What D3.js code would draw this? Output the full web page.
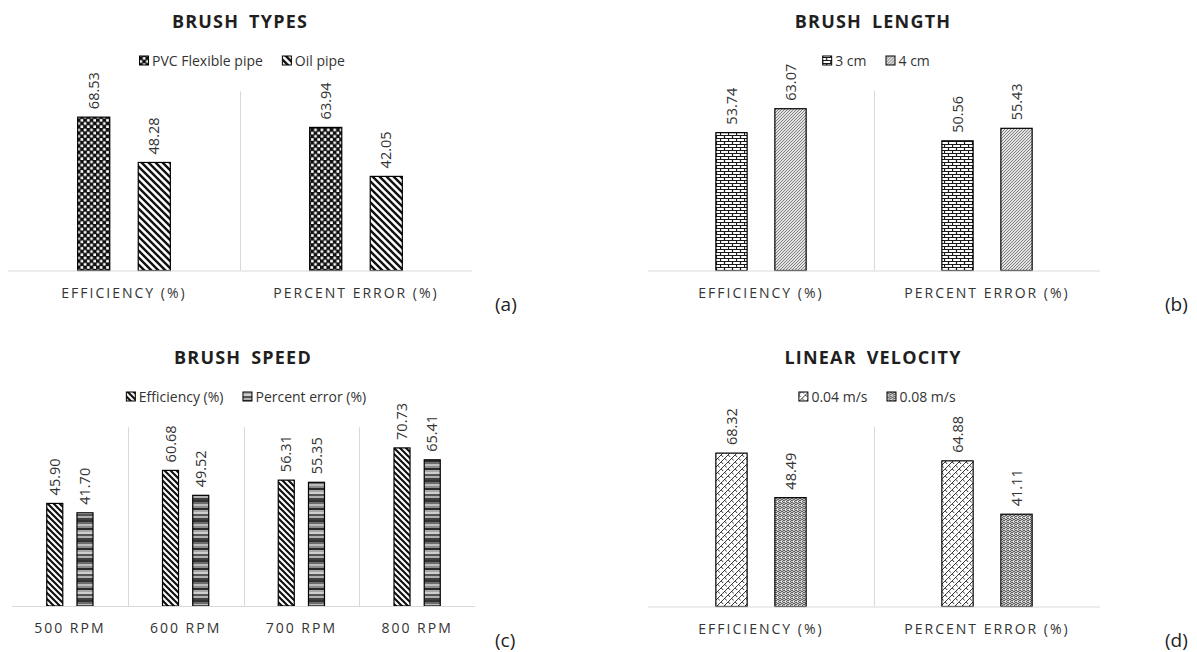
<!DOCTYPE html>
<html>
<head>
<meta charset="utf-8">
<script src="https://cdn.jsdelivr.net/npm/d3@7"></script>
<style>
  body { margin: 0; background: #fff; }
  svg { display: block; }
  text { font-family: "Open Sans", sans-serif; }
</style>
</head>
<body>
<svg id="chart" width="1197" height="652"></svg>
<script>
// ---- data ----
var twoCategories = ["EFFICIENCY (%)", "PERCENT ERROR (%)"];

var typesSeries = ["PVC Flexible pipe", "Oil pipe"];
var typesValues = [[68.53, 63.94], [48.28, 42.05]];

var lengthSeries = ["3 cm", "4 cm"];
var lengthValues = [[53.74, 50.56], [63.07, 55.43]];

var speedCategories = ["500 RPM", "600 RPM", "700 RPM", "800 RPM"];
var speedSeries = ["Efficiency (%)", "Percent error (%)"];
var speedValues = [[45.90, 60.68, 56.31, 70.73], [41.70, 49.52, 55.35, 65.41]];

var velocitySeries = ["0.04 m/s", "0.08 m/s"];
var velocityValues = [[68.32, 64.88], [48.49, 41.11]];

var svg = d3.select("#chart");
var defs = svg.append("defs");

// ---- fill patterns (imitating the Excel pattern fills) ----
function pattern(id, w, h, draw) {
  var p = defs.append("pattern").attr("id", id)
    .attr("patternUnits", "userSpaceOnUse").attr("width", w).attr("height", h);
  p.append("rect").attr("width", w).attr("height", h).attr("fill", "#fff");
  draw(p);
}

pattern("checker", 6.4, 6.4, function(p) {
  p.append("rect").attr("width", 6.4).attr("height", 6.4).attr("fill", "#111");
  p.append("rect").attr("x", 0.6).attr("y", 0.6).attr("width", 2.6).attr("height", 2.6).attr("fill", "#fff");
  p.append("rect").attr("x", 3.8).attr("y", 3.8).attr("width", 2.6).attr("height", 2.6).attr("fill", "#fff");
});

function diagDown(id, s, sw) {
  pattern(id, s, s, function(p) {
    p.append("path").attr("d", "M0,0L" + s + "," + s + "M" + (-s) + ",0L" + s + "," + (2 * s) + "M0," + (-s) + "L" + (2 * s) + "," + s)
      .attr("stroke", "#111").attr("stroke-width", sw);
  });
}
diagDown("wdown", 7, 2.4);
diagDown("wdown2", 6, 2.2);

pattern("brick", 8, 6, function(p) {
  p.append("path")
    .attr("d", "M0,0.5H8M0,3.5H8M0.5,0.5V3.5M4.5,3.5V6.5")
    .attr("stroke", "#1a1a1a").attr("stroke-width", 1.2).attr("fill", "none");
});

pattern("fineup", 3, 3, function(p) {
  p.append("rect").attr("width", 3).attr("height", 3).attr("fill", "#e2e2e2");
  p.append("path").attr("d", "M0,3L3,0M-1,1L1,-1M2,4L4,2")
    .attr("stroke", "#6a6a6a").attr("stroke-width", 0.8);
});

var stripeShades = ["#333", "#6b6b6b", "#bdbdbd", "#8c8c8c", "#2a2a2a", "#a8a8a8", "#cfcfcf", "#555", "#b0b0b0", "#404040"];
pattern("hstripes", 10, 20, function(p) {
  stripeShades.forEach(function(c, i) {
    p.append("rect").attr("y", i * 2).attr("width", 10).attr("height", 2).attr("fill", c);
  });
});

pattern("shingle", 7, 7, function(p) {
  p.append("path").attr("d", "M0,7L7,0M-1,1L1,-1M6,8L8,6M3.5,3.5Q5,4 5.5,5.5M0,0Q1.5,0.5 2,2")
    .attr("stroke", "#222").attr("stroke-width", 0.9).attr("fill", "none");
});

pattern("weave", 4, 4, function(p) {
  p.append("rect").attr("width", 4).attr("height", 4).attr("fill", "#c8c8c8");
  p.append("path").attr("d", "M0,0L2,2L4,0M0,2L2,4L4,2")
    .attr("stroke", "#555").attr("stroke-width", 0.9).attr("fill", "none");
  p.append("rect").attr("x", 1).attr("y", 1).attr("width", 1).attr("height", 1).attr("fill", "#eee");
});

// ---- one Excel-style clustered column chart ----
function panel(cfg) {
  var g = svg.append("g");

  var x0 = d3.scaleBand().domain(cfg.categories).range([cfg.left, cfg.right]);
  var x1 = d3.scaleBand().domain(cfg.series)
    .range([0, x0.bandwidth()]).paddingInner(0.47).paddingOuter(1.15);
  var y = d3.scaleLinear().domain([0, cfg.yMax]).range([cfg.base, cfg.base - cfg.yMax * cfg.ppu]);

  g.append("text").attr("x", cfg.titleX).attr("y", cfg.titleY)
    .attr("text-anchor", "middle").attr("font-size", 18).attr("font-weight", 700)
    .attr("letter-spacing", 1.2).attr("fill", "#1f1f1f").attr("word-spacing", 4)
    .text(cfg.title);

  // vertical separators between categories
  g.selectAll(".sep").data(cfg.categories.slice(1)).enter().append("line")
    .attr("x1", function(d) { return Math.round(x0(d)) + 0.5; })
    .attr("x2", function(d) { return Math.round(x0(d)) + 0.5; })
    .attr("y1", y(cfg.yMax)).attr("y2", cfg.base)
    .attr("stroke", "#d9d9d9").attr("stroke-width", 1);

  var grp = g.selectAll(".series").data(cfg.series).enter().append("g");
  grp.each(function(s, si) {
    var gs = d3.select(this);
    var vals = cfg.values[si].map(function(v, ci) { return {c: cfg.categories[ci], v: v}; });
    gs.selectAll("rect").data(vals).enter().append("rect")
      .attr("x", function(d) { return x0(d.c) + x1(s); })
      .attr("width", x1.bandwidth())
      .attr("y", function(d) { return y(d.v); })
      .attr("height", function(d) { return cfg.base - y(d.v); })
      .attr("fill", "url(#" + cfg.fills[si] + ")")
      .attr("stroke", "#000").attr("stroke-width", 1.2);
    gs.selectAll(".lbl").data(vals).enter().append("text")
      .attr("transform", function(d) {
        return "translate(" + (x0(d.c) + x1(s) + x1.bandwidth() / 2) + "," + (y(d.v) - 8) + ") rotate(-90)";
      })
      .attr("dy", "0.35em").attr("font-size", 14.5).attr("fill", "#333")
      .text(function(d) { return d.v.toFixed(2); });
  });

  // baseline
  g.append("line").attr("x1", cfg.left).attr("x2", cfg.right)
    .attr("y1", cfg.base + 0.5).attr("y2", cfg.base + 0.5)
    .attr("stroke", "#d9d9d9").attr("stroke-width", 1.2);

  var axis = d3.axisBottom(x0).tickSize(0).tickPadding(0);
  var ax = g.append("g").attr("transform", "translate(0," + cfg.base + ")").call(axis);
  ax.select(".domain").remove();
  ax.selectAll("text").attr("y", 27).attr("dy", 0)
    .attr("font-size", 14).attr("letter-spacing", cfg.catSpacing)
    .attr("fill", "#333").style("font-family", "'Open Sans', sans-serif");

  // legend
  var leg = g.append("g");
  var lx = 0;
  cfg.series.forEach(function(s, si) {
    var it = leg.append("g").attr("transform", "translate(" + lx + ",0)");
    it.append("rect").attr("x", 0.5).attr("y", -10).attr("width", 9).attr("height", 9)
      .attr("fill", "url(#" + cfg.fills[si] + ")").attr("stroke", "#000").attr("stroke-width", 1);
    var t = it.append("text").attr("x", 13).attr("y", 0).attr("font-size", 14)
      .attr("fill", "#333").text(s);
    lx += 13 + t.node().getComputedTextLength() + 19;
  });
  lx -= 19;
  leg.attr("transform", "translate(" + (cfg.legendX - lx / 2) + "," + cfg.legendY + ")");

  svg.append("text").attr("x", cfg.tagX).attr("y", cfg.tagY)
    .attr("font-size", 19).attr("fill", "#222").text(cfg.tag);
}

panel({title: "BRUSH TYPES", categories: twoCategories, series: typesSeries, values: typesValues,
  fills: ["checker", "wdown"], yMax: 80, ppu: 2.238, left: 8, right: 472, base: 270.5,
  titleX: 240, titleY: 28, legendX: 242, legendY: 66, catSpacing: 2, tag: "(a)", tagX: 495, tagY: 311});

panel({title: "BRUSH LENGTH", categories: twoCategories, series: lengthSeries, values: lengthValues,
  fills: ["brick", "fineup"], yMax: 70, ppu: 2.565, left: 648, right: 1100, base: 270.5,
  titleX: 873, titleY: 28, legendX: 876, legendY: 66, catSpacing: 2, tag: "(b)", tagX: 1165, tagY: 311});

panel({title: "BRUSH SPEED", categories: speedCategories, series: speedSeries, values: speedValues,
  fills: ["wdown2", "hstripes"], yMax: 80, ppu: 2.235, left: 12, right: 475, base: 606,
  titleX: 243, titleY: 364, legendX: 246, legendY: 402, catSpacing: 2, tag: "(c)", tagX: 495, tagY: 647});

panel({title: "LINEAR VELOCITY", categories: twoCategories, series: velocitySeries, values: velocityValues,
  fills: ["shingle", "weave"], yMax: 80, ppu: 2.245, left: 648, right: 1100, base: 606.5,
  titleX: 873, titleY: 364, legendX: 877, legendY: 402, catSpacing: 2, tag: "(d)", tagX: 1165, tagY: 647});
</script>
</body>
</html>
